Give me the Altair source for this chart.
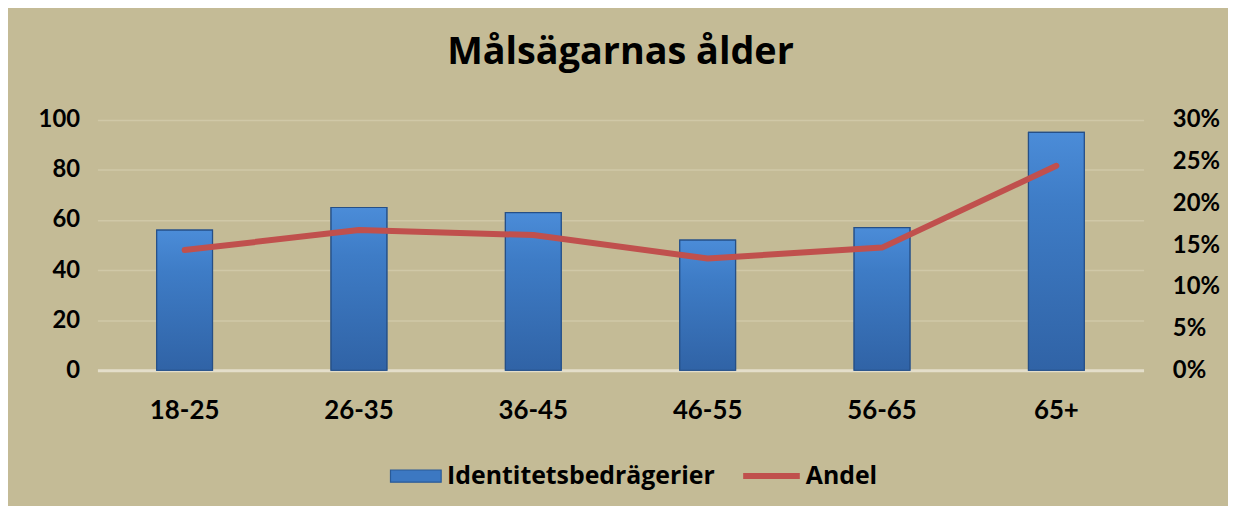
import altair as alt
import pandas as pd

categories = ["18-25", "26-35", "36-45", "46-55", "56-65", "65+"]
counts = [56, 65, 63, 52, 57, 95]
shares = [0.144, 0.168, 0.162, 0.134, 0.147, 0.245]
bar_series = "Identitetsbedrägerier"
line_series = "Andel"
title_text = "Målsägarnas ålder"

df = pd.DataFrame({
    "age": categories,
    "count": counts,
    "share": shares,
    "s1": [bar_series] * len(categories),
    "s2": [line_series] * len(categories),
})

BG = "#C4BB96"
FONT = "Lato"
LFONT = "Open Sans"
BLUE = "#3C78C2"
RED = "#C0504D"

x = alt.X(
    "age:N", sort=categories, title=None,
    scale=alt.Scale(paddingInner=0.68, paddingOuter=0.34),
    axis=alt.Axis(labelAngle=0, labelFont=FONT, labelFontSize=26, labelFontWeight="bold",
                  labelColor="black", domain=False, ticks=False, labelPadding=28, grid=False),
)

y_left = alt.Y("count:Q", title=None, scale=alt.Scale(domain=[0, 100]),
               axis=alt.Axis(values=[0, 20, 40, 60, 80, 100], labelFont=FONT, labelFontSize=24,
                             labelFontWeight="bold", labelColor="black", domain=False, ticks=False,
                             labelPadding=18, grid=True,
                             gridColor=alt.condition("datum.value === 0", alt.value("#E4DECA"), alt.value("#D0C8A7")),
                             gridWidth=alt.condition("datum.value === 0", alt.value(3), alt.value(1.5))))

bars = alt.Chart(df).mark_bar(stroke="#2A5A96", strokeWidth=1.2).encode(
    x=x,
    y=y_left,
    fill=alt.Fill("s1:N", scale=alt.Scale(domain=[bar_series], range=[BLUE]),
                  legend=alt.Legend(title=None, orient="none", legendX=294, legendY=332,
                                    symbolType="M-1,-0.24H1V0.24H-1Z", symbolSize=2601,
                                    symbolStrokeColor="#2A5A96", symbolStrokeWidth=1.2,
                                    labelOffset=5, labelLimit=400)),
)

bar_shade = alt.Chart(df).mark_bar(
    stroke="#264F86", strokeWidth=1.2,
    color=alt.Gradient(gradient="linear", x1=0, x2=0, y1=0, y2=1,
                       stops=[alt.GradientStop(color="#4B8CD8", offset=0),
                              alt.GradientStop(color="#3E7CC6", offset=0.3),
                              alt.GradientStop(color="#3063A6", offset=1)]),
).encode(x=x, y=y_left)

line = alt.Chart(df).mark_line(strokeWidth=6, strokeCap="round", strokeJoin="round").encode(
    x=x,
    y=alt.Y("share:Q", title=None, scale=alt.Scale(domain=[0, 0.3]),
            axis=alt.Axis(orient="right", values=[0, 0.05, 0.1, 0.15, 0.2, 0.25, 0.3], format=".0%",
                          labelFont=FONT, labelFontSize=24, labelFontWeight="bold",
                          labelColor="black", domain=False, ticks=False, labelPadding=29,
                          grid=False)),
    stroke=alt.Stroke("s2:N", scale=alt.Scale(domain=[line_series], range=[RED]),
                      legend=alt.Legend(title=None, orient="none", legendX=647, legendY=327,
                                        symbolType="stroke", symbolSize=3249, symbolStrokeWidth=6,
                                        labelOffset=3, labelLimit=400)),
)

left = alt.layer(bars, bar_shade)

chart = alt.layer(left, line).resolve_scale(y="independent", fill="independent", stroke="independent").properties(
    width=1053,
    height=252,
    autosize=alt.AutoSizeParams(type="none"),
    padding={"left": 90, "top": 111, "right": 85, "bottom": 135},
    background=BG,
    title=alt.TitleParams(title_text, font=LFONT, fontSize=38, fontWeight="bold", color="black",
                          anchor="middle", offset=36),
).configure_view(stroke=None).configure_legend(
    labelFont=LFONT, labelFontSize=25, labelFontWeight="bold", labelColor="black", padding=0,
)

chart.save("out.html", embed_options={"renderer": "svg", "actions": False})
